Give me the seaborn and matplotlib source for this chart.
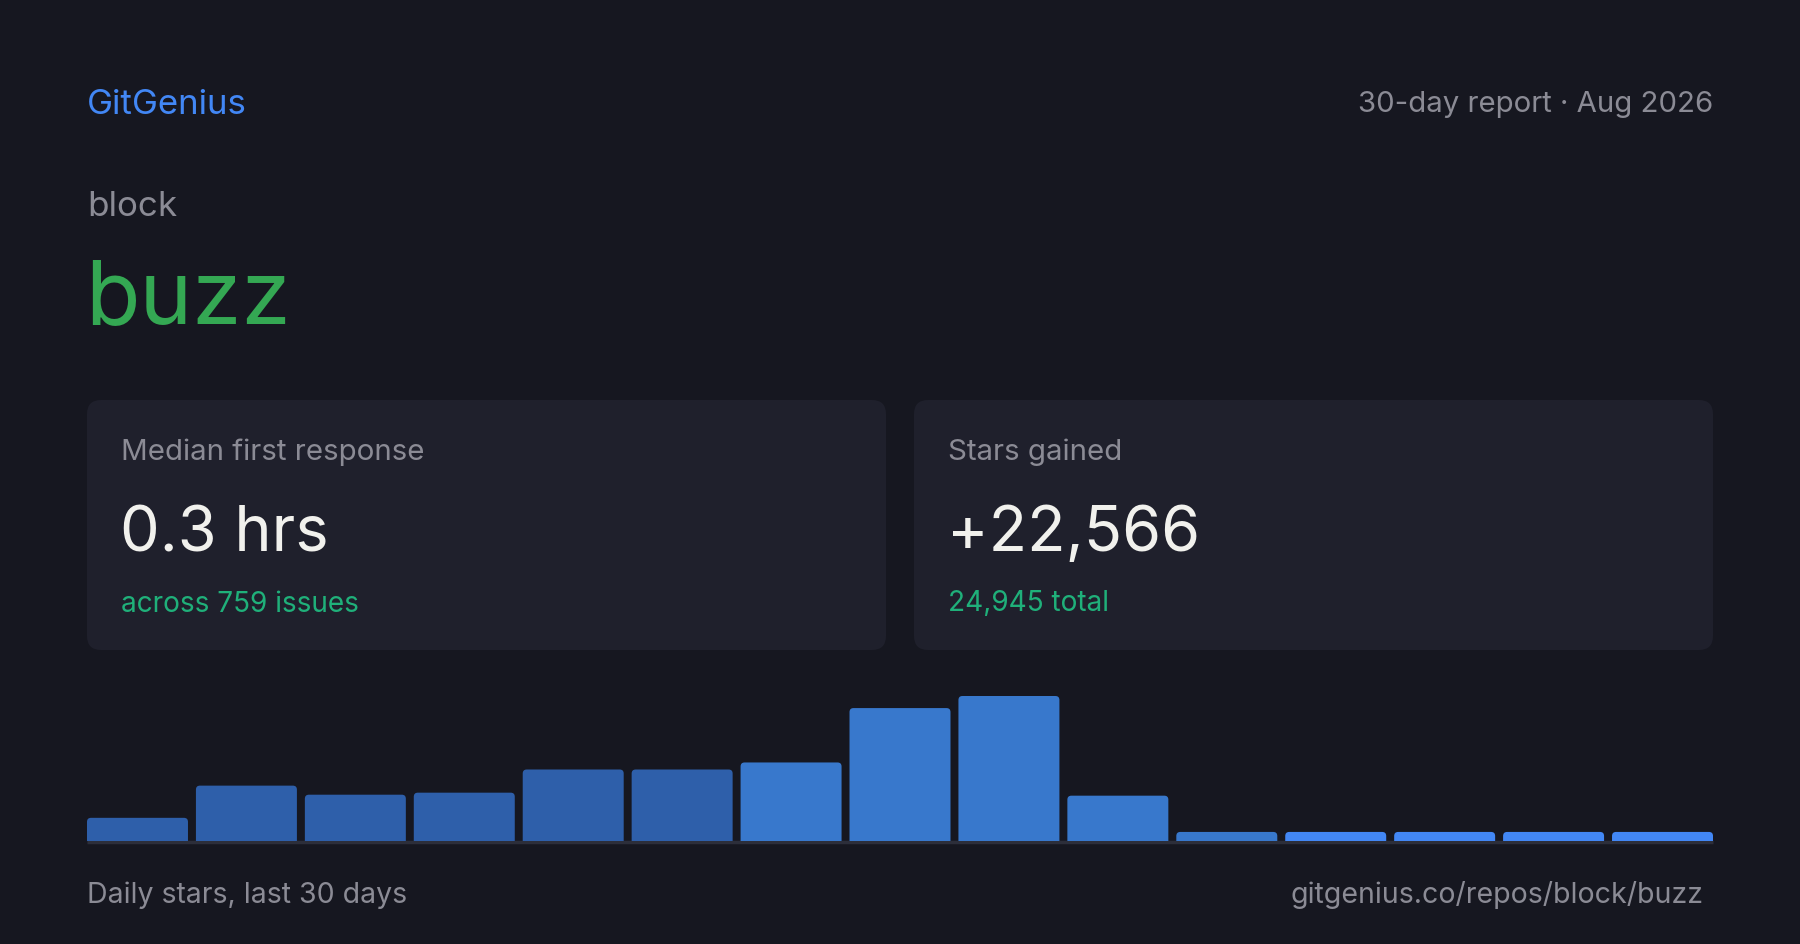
import matplotlib
matplotlib.use("Agg")
import matplotlib.pyplot as plt
from matplotlib.patches import FancyBboxPatch
import seaborn as sns
import pandas as pd

# =========================================================
# DADOS
# =========================================================
org = "block"
repo = "buzz"
period_label = "30-day report · Aug 2026"

median_label = "Median first response"
median_value = "0.3 hrs"
median_sub = "across 759 issues"

stars_label = "Stars gained"
stars_value = "+22,566"
stars_sub = "24,945 total"

bar_index = list(range(1, 16))
daily_stars = [685, 1637, 1369, 1429, 2114, 2114, 2322, 3930, 4287, 1340,
               268, 268, 268, 268, 268]
bar_group = ["old"] * 6 + ["mid"] * 5 + ["new"] * 4

footer_left = "Daily stars, last 30 days"
footer_right = "gitgenius.co/repos/block/buzz"

# =========================================================
# ESTILO
# =========================================================
BG = "#161720"
CARD = "#1f202c"
BLUE = "#4287f5"
GREEN = "#34a853"
TEAL = "#1fb07a"
GREY = "#8b8b95"
WHITE = "#f1f1ed"
group_colors = {"old": "#2e5faa", "mid": "#3878cc", "new": "#4287f5"}

W, H = 1800, 945
sns.set_theme(style="white")
plt.rcParams["font.family"] = ["Inter", "DejaVu Sans"]

fig = plt.figure(figsize=(W / 100, H / 100), dpi=100, facecolor=BG)
bg = fig.add_axes([0, 0, 1, 1])
bg.set_xlim(0, W)
bg.set_ylim(H, 0)
bg.axis("off")
bg.set_facecolor(BG)


def pt(px):
    return px * 72 / 100


# cabeçalho
bg.text(87, 105, "GitGenius", color=BLUE, fontsize=pt(34.8), va="center", ha="left")
bg.text(1713, 105, period_label, color=GREY, fontsize=pt(29.4), va="center", ha="right")
bg.text(87, 207, org, color=GREY, fontsize=pt(35), va="center", ha="left")
bg.text(85, 300, repo, color=GREEN, fontsize=pt(89), va="center", ha="left")

# cartões
cards = [
    (87, median_label, median_value, median_sub),
    (914, stars_label, stars_value, stars_sub),
]
for x0, label, value, sub in cards:
    bg.add_patch(FancyBboxPatch((x0, 401), 799, 250,
                                boxstyle="round,pad=0,rounding_size=14",
                                facecolor=CARD, edgecolor="none"))
    bg.text(x0 + 34, 452, label, color=GREY, fontsize=pt(29.5), va="center", ha="left")
    bg.text(x0 + 33, 535, value, color=WHITE, fontsize=pt(63), va="center", ha="left")
    bg.text(x0 + 34, 604, sub, color=TEAL, fontsize=pt(28), va="center", ha="left")

# rodapé
bg.text(87, 895, footer_left, color=GREY, fontsize=pt(28.5), va="center", ha="left")
bg.text(1704, 895, footer_right, color=GREY, fontsize=pt(28.5), va="center", ha="right")

# linha de base do gráfico
bg.plot([87, 1713], [843, 843], color="#2c2e3a", lw=2.5, solid_capstyle="butt")

# =========================================================
# BARRAS
# =========================================================
df = pd.DataFrame({"idx": bar_index, "stars": daily_stars, "group": bar_group})
ax_left, ax_right = 87, 1713
ax_bottom, ax_top = 842, 697
ax = fig.add_axes([ax_left / W, 1 - ax_bottom / H,
                   (ax_right - ax_left) / W, (ax_bottom - ax_top) / H])
ax.set_facecolor("none")
sns.barplot(data=df, x="idx", y="stars", hue="group", palette=group_colors,
            width=0.927, dodge=False, legend=False, ax=ax, saturation=1)
ax.set_xlim(-0.5 + (1 - 0.927) / 2, len(bar_index) - 0.5 - (1 - 0.927) / 2)
ax.set_ylim(0, max(daily_stars))
ax.axis("off")

# cantos arredondados
fig.canvas.draw()
x_per_px = (ax.get_xlim()[1] - ax.get_xlim()[0]) / (ax_right - ax_left)
y_per_px = (ax.get_ylim()[1] - ax.get_ylim()[0]) / (ax_bottom - ax_top)
radius_px = 4
for p in list(ax.patches):
    x, y = p.get_x(), p.get_y()
    w, h = p.get_width(), p.get_height()
    if h <= 0:
        continue
    color = p.get_facecolor()
    p.remove()
    ext = radius_px * y_per_px
    ax.add_patch(FancyBboxPatch((x, y - ext), w, h + ext,
                                boxstyle=f"round,pad=0,rounding_size={radius_px * x_per_px}",
                                mutation_aspect=y_per_px / x_per_px,
                                facecolor=color, edgecolor="none", clip_on=True))

fig.savefig("out.png", dpi=100, facecolor=BG)
